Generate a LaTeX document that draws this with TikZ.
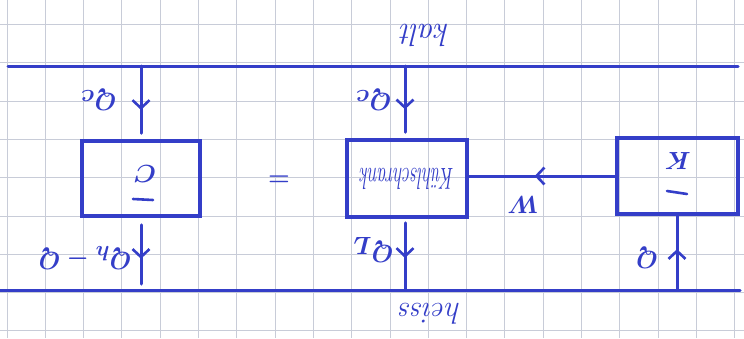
\documentclass[tikz,border=0pt]{standalone}
\usepackage{fontspec}
\usetikzlibrary{arrows.meta,decorations.markings}
\definecolor{ink}{RGB}{52,62,200}
\definecolor{gridc}{RGB}{200,204,216}
\begin{document}
\begin{tikzpicture}[x=1pt,y=-1pt,
  inkline/.style={draw=ink,line width=3pt,line cap=round},
  box/.style={draw=ink,line width=3.5pt,inner sep=0pt},
  midarrow/.style={postaction={decorate},decoration={markings,mark=at position #1 with {\arrow{Straight Barb[length=8pt,width=17pt,line width=2.6pt]}}}},
  lbl/.style={text=ink,rotate=180,inner sep=0pt,font=\fontsize{32}{32}\selectfont\boldmath},
  word/.style={text=ink,rotate=180,inner sep=0pt,font=\fontsize{32}{32}\selectfont\itshape}
]
\useasboundingbox (0,0) rectangle (744,338);
\fill[white] (0,0) rectangle (744,338);
% graph paper
\foreach \k in {0,...,19} \draw[gridc,line width=1pt] ({7+38.3*\k},0) -- ({7+38.3*\k},338);
\foreach \k in {0,...,8} \draw[gridc,line width=1pt] (0,{24.5+38.3*\k}) -- (744,{24.5+38.3*\k});
% reservoir lines
\coordinate (tl) at (8,66);
\coordinate (tr) at (738,66);
\coordinate (bl) at (0,290);
\coordinate (br) at (740,290);
\draw[inkline] (tl) -- (tr);
\draw[inkline] (bl) -- (br);
\node[word] (kalt) at (425,35) {kalt};
\node[word,font=\fontsize{30}{30}\selectfont\itshape] (heiss) at (430,314) {heiss};
% boxes
\node[box,minimum width=118pt,minimum height=75pt] (C) at (141,178.5) {};
\node[box,minimum width=120pt,minimum height=77pt] (KS) at (407,178.5) {};
\node[box,minimum width=121pt,minimum height=76pt] (K) at (677.5,176) {};
% upside-down contents (bars drawn as strokes)
\node[lbl,font=\fontsize{40}{40}\selectfont\boldmath] (Ct) at (145,174) {$C$};
\coordinate (cb1) at (133,199);
\coordinate (cb2) at (153,200);
\draw[inkline,line width=2.6pt] (cb1) -- (cb2);
\node[lbl,font=\fontsize{42}{42}\selectfont\boldmath] (Kt) at (678,161) {$K$};
\coordinate (kb1) at (667,191);
\coordinate (kb2) at (687,194);
\draw[inkline,line width=2.6pt] (kb1) -- (kb2);
\node[word,font=\fontsize{19}{19}\selectfont\itshape] (KSt) at (KS.center) {\scalebox{0.95}[1.6]{Kühlschrank}};
\node[text=ink,inner sep=0pt,font=\fontsize{50}{50}\selectfont\boldmath] (eq) at (279,181) {$=$};
% arrow endpoints
\coordinate (c1) at (141,66);
\coordinate (c2) at (141,284);
\coordinate (m1) at (405,66);
\coordinate (m2) at (405,290);
\coordinate (r1) at (677,290);
% arrows
\draw[inkline,midarrow=0.6,shorten >=6pt] (c1) -- (C.north-|c1);
\draw[inkline,midarrow=0.62,shorten <=7pt] (C.south-|c1) -- (c2);
\draw[inkline,midarrow=0.6,shorten >=6pt] (m1) -- (KS.north-|m1);
\draw[inkline,midarrow=0.55,shorten <=4pt] (KS.south-|m1) -- (m2);
\draw[inkline,midarrow=0.55] (r1) -- (K.south-|r1);
\draw[inkline,midarrow=0.55] (K.west) -- (KS.east|-K.west);
% labels
\node[lbl,font=\fontsize{34}{34}\selectfont\boldmath] (qc1) at (99,100) {$Q_c$};
\node[lbl] (qh) at (85,258) {$Q_h-Q$};
\node[lbl,font=\fontsize{34}{34}\selectfont\boldmath] (qc2) at (374,100) {$Q_c$};
\node[lbl,font=\fontsize{34}{34}\selectfont\boldmath] (ql) at (373,250) {$Q_L$};
\node[lbl,font=\fontsize{34}{34}\selectfont\boldmath] (w) at (523,205) {$W$};
\node[lbl,font=\fontsize{34}{34}\selectfont\boldmath] (q) at (647,258) {$Q$};
\end{tikzpicture}
\end{document}
